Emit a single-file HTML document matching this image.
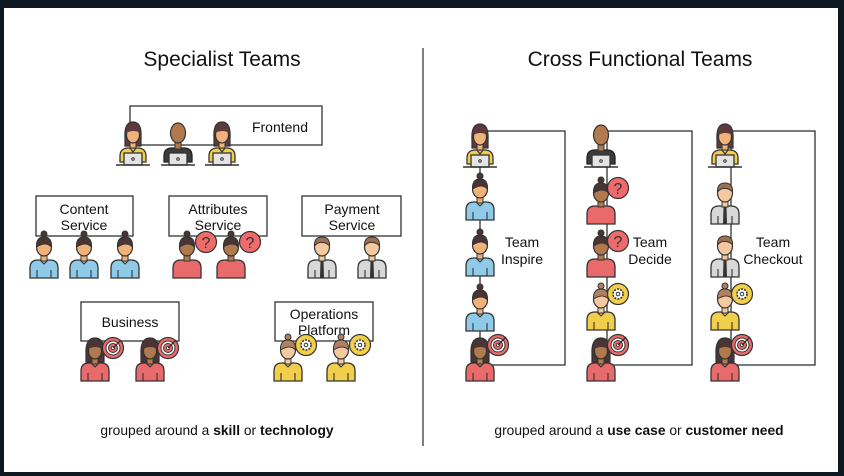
<!DOCTYPE html>
<html><head><meta charset="utf-8"><style>
html,body{margin:0;padding:0;background:#0d1720;}
svg{display:block;}
text{font-family:"Liberation Sans",sans-serif;fill:#111;}
</style></head><body>
<svg width="844" height="476" viewBox="0 0 844 476" xmlns="http://www.w3.org/2000/svg">
<defs>
<symbol id="fl" viewBox="0 0 34 50" width="34" height="50" overflow="visible">
<path d="M4 44 V38 Q4 31 11 30 L23 30 Q30 31 30 38 V44 Z" fill="#f2cf4a" stroke="#333" stroke-width="1.3"/>
<path d="M14 30 L17 34 L20 30" fill="none" stroke="#333" stroke-width="1.2"/>
<path d="M9 20 Q8 4 17 4 Q26 4 25 20 L25 28 L9 28 Z" fill="#5e3b3b" stroke="#333" stroke-width="1.2"/>
<rect x="14" y="23" width="6" height="7" fill="#f0b27a" stroke="#333" stroke-width="1"/>
<ellipse cx="17" cy="17" rx="6.5" ry="8" fill="#f0b27a" stroke="#333" stroke-width="1.2"/>
<path d="M10 15 Q12 8 17 8 Q22 8 24 15 Q18 11 10 15 Z" fill="#5e3b3b"/>
<rect x="8" y="35" width="18" height="12" fill="#e4e4e4" stroke="#333" stroke-width="1.3"/>
<circle cx="17" cy="41" r="1.3" fill="none" stroke="#333"/>
<line x1="0" y1="47" x2="34" y2="47" stroke="#333" stroke-width="1.5"/>
</symbol>
<symbol id="ml" viewBox="0 0 34 50" width="34" height="50" overflow="visible">
<path d="M3 44 V38 Q3 30 11 30 L23 30 Q31 30 31 38 V44 Z" fill="#3c3c3c" stroke="#222" stroke-width="1.3"/>
<rect x="14" y="23" width="6" height="8" fill="#b07a4e" stroke="#333" stroke-width="1"/>
<ellipse cx="17" cy="15" rx="7.5" ry="10" fill="#b07a4e" stroke="#333" stroke-width="1.2"/>
<rect x="8" y="35" width="18" height="12" fill="#e4e4e4" stroke="#333" stroke-width="1.3"/>
<circle cx="17" cy="41" r="1.3" fill="none" stroke="#333"/>
<line x1="0" y1="47" x2="34" y2="47" stroke="#333" stroke-width="1.5"/>
</symbol>
<symbol id="bb" viewBox="0 0 34 50" width="34" height="50" overflow="visible">
<path d="M3 48 V38 Q3 30 11 30 L23 30 Q31 30 31 38 V48 Z" fill="#8fcbe8" stroke="#333" stroke-width="1.3"/>
<path d="M13 30 L17 34 L21 30 M10 40 V48 M24 40 V48" fill="none" stroke="#333" stroke-width="1.1"/>
<rect x="14" y="23" width="6" height="8" fill="#f0b27a" stroke="#333" stroke-width="1"/>
<circle cx="17" cy="4" r="3" fill="#4a3434" stroke="#333"/>
<ellipse cx="17" cy="17" rx="7.5" ry="9" fill="#f0b27a" stroke="#333" stroke-width="1.2"/>
<path d="M9.5 17 Q9 7 17 7 Q25 7 24.5 17 Q19 11 9.5 17 Z" fill="#4a3434" stroke="#333"/>
</symbol>
<symbol id="by" viewBox="0 0 34 50" width="34" height="50" overflow="visible">
<path d="M3 48 V38 Q3 30 11 30 L23 30 Q31 30 31 38 V48 Z" fill="#f2cf4a" stroke="#333" stroke-width="1.3"/>
<path d="M13 30 L17 34 L21 30 M10 40 V48 M24 40 V48" fill="none" stroke="#333" stroke-width="1.1"/>
<rect x="14" y="23" width="6" height="8" fill="#f5c9a0" stroke="#333" stroke-width="1"/>
<circle cx="17" cy="4" r="3" fill="#b08060" stroke="#333"/>
<ellipse cx="17" cy="17" rx="7.5" ry="9" fill="#f5c9a0" stroke="#333" stroke-width="1.2"/>
<path d="M9.5 17 Q9 7 17 7 Q25 7 24.5 17 Q19 11 9.5 17 Z" fill="#b08060" stroke="#333"/>
</symbol>
<symbol id="br" viewBox="0 0 34 50" width="34" height="50" overflow="visible">
<path d="M3 48 V38 Q3 30 11 30 L23 30 Q31 30 31 38 V48 Z" fill="#e86a6a" stroke="#333" stroke-width="1.3"/>
<rect x="14" y="23" width="6" height="8" fill="#b07a4e" stroke="#333" stroke-width="1"/>
<circle cx="17" cy="4" r="3" fill="#4a3434" stroke="#333"/>
<ellipse cx="17" cy="17" rx="7.5" ry="9" fill="#b07a4e" stroke="#333" stroke-width="1.2"/>
<path d="M9.5 17 Q9 7 17 7 Q25 7 24.5 17 Q19 11 9.5 17 Z" fill="#4a3434" stroke="#333"/>
</symbol>
<symbol id="lr" viewBox="0 0 34 50" width="34" height="50" overflow="visible">
<path d="M3 48 V38 Q3 30 11 30 L23 30 Q31 30 31 38 V48 Z" fill="#e86a6a" stroke="#333" stroke-width="1.3"/>
<path d="M13 30 L17 34 L21 30 M10 40 V48 M24 40 V48" fill="none" stroke="#333" stroke-width="1.1"/>
<path d="M8 22 Q7 5 17 5 Q27 5 26 22 L26 29 L8 29 Z" fill="#4a3434" stroke="#333" stroke-width="1.2"/>
<rect x="14" y="23" width="6" height="8" fill="#b07a4e" stroke="#333" stroke-width="1"/>
<ellipse cx="17" cy="18" rx="6.5" ry="8" fill="#b07a4e" stroke="#333" stroke-width="1.2"/>
<path d="M10 16 Q12 9 17 9 Q22 9 24 16 Q18 12 10 16 Z" fill="#4a3434"/>
</symbol>
<symbol id="mg" viewBox="0 0 34 50" width="34" height="50" overflow="visible">
<path d="M3 48 V38 Q3 30 11 30 L23 30 Q31 30 31 38 V48 Z" fill="#d8d8d8" stroke="#333" stroke-width="1.3"/>
<path d="M15.5 31 L18.5 31 L19 48 L15 48 Z" fill="#333"/>
<path d="M10 40 V48 M24 40 V48" stroke="#333" stroke-width="1.1"/>
<rect x="14" y="23" width="6" height="8" fill="#f5c9a0" stroke="#333" stroke-width="1"/>
<ellipse cx="17" cy="17" rx="7.5" ry="9" fill="#f5c9a0" stroke="#333" stroke-width="1.2"/>
<path d="M9.5 16 Q9 7 17 7 Q25 7 24.5 16 Q20 11 13 13 Q11 14 9.5 16 Z" fill="#9c7050" stroke="#333"/>
</symbol>
<symbol id="q" viewBox="0 0 24 24" width="24" height="24" overflow="visible">
<circle cx="12" cy="12" r="10.5" fill="#ee6b6b" stroke="#333" stroke-width="1.2"/>
<text x="12" y="18" font-size="16" text-anchor="middle" style="fill:#333">?</text>
</symbol>
<symbol id="tg" viewBox="0 0 24 24" width="24" height="24" overflow="visible">
<circle cx="12" cy="12" r="10.5" fill="#ee6b6b" stroke="#333" stroke-width="1.2"/>
<circle cx="12" cy="12" r="7" fill="#fff" stroke="#333"/>
<circle cx="12" cy="12" r="4.5" fill="#ee6b6b" stroke="#333"/>
<circle cx="12" cy="12" r="1.6" fill="#fff" stroke="#333" stroke-width=".8"/>
<path d="M12 12 L20 4" stroke="#333" stroke-width="1.3"/>
</symbol>
<symbol id="gr" viewBox="0 0 24 24" width="24" height="24" overflow="visible">
<circle cx="12" cy="12" r="10.5" fill="#f2cf4a" stroke="#333" stroke-width="1.2"/>
<circle cx="12" cy="12" r="5" fill="#fff" stroke="#333" stroke-width="1.6" stroke-dasharray="2 1.2"/>
<circle cx="12" cy="12" r="1.8" fill="none" stroke="#333"/>
</symbol>
</defs>

<rect x="4" y="8" width="834" height="464" fill="#fff"/>

<text x="222" y="66" font-size="21" text-anchor="middle">Specialist Teams</text>
<text x="640" y="66" font-size="21" text-anchor="middle">Cross Functional Teams</text>
<line x1="423" y1="48" x2="423" y2="446" stroke="#555" stroke-width="1.5"/>

<g fill="#fff" stroke="#333" stroke-width="1.3">
<rect x="130" y="106" width="192" height="39"/>
<rect x="36" y="196" width="97" height="40"/>
<rect x="169" y="196" width="98" height="40"/>
<rect x="302" y="196" width="99" height="40"/>
<rect x="81" y="302" width="98" height="39"/>
<rect x="275" y="302" width="98" height="39"/>
<rect x="480" y="131" width="85" height="234"/>
<rect x="607" y="131" width="85" height="234"/>
<rect x="731" y="131" width="84" height="234"/>
</g>
<g font-size="14" text-anchor="middle">
<text x="280" y="132">Frontend</text>
<text x="84" y="214">Content</text><text x="84" y="230">Service</text>
<text x="218" y="214">Attributes</text><text x="218" y="230">Service</text>
<text x="352" y="214">Payment</text><text x="352" y="230">Service</text>
<text x="130" y="327">Business</text>
<text x="324" y="319">Operations</text><text x="324" y="335">Platform</text>
<text x="522" y="247">Team</text><text x="522" y="264">Inspire</text>
<text x="650" y="247">Team</text><text x="650" y="264">Decide</text>
<text x="773" y="247">Team</text><text x="773" y="264">Checkout</text>
</g>

<use href="#fl" x="116" y="118"/><use href="#ml" x="161" y="118"/><use href="#fl" x="205" y="118"/>
<use href="#bb" x="27" y="230"/><use href="#bb" x="67" y="230"/><use href="#bb" x="108" y="230"/>
<use href="#br" x="170" y="230"/><use href="#q" x="194" y="230"/>
<use href="#br" x="214" y="230"/><use href="#q" x="238" y="230"/>
<use href="#mg" x="305" y="230"/><use href="#mg" x="355" y="230"/>
<use href="#lr" x="78" y="333"/><use href="#tg" x="101" y="336"/>
<use href="#lr" x="133" y="333"/><use href="#tg" x="156" y="336"/>
<use href="#by" x="271" y="333"/><use href="#gr" x="294" y="333"/>
<use href="#by" x="324" y="333"/><use href="#gr" x="348" y="333"/>

<use href="#fl" x="463" y="120"/>
<use href="#bb" x="463" y="172"/>
<use href="#bb" x="463" y="228"/>
<use href="#bb" x="463" y="283"/>
<use href="#lr" x="463" y="333"/><use href="#tg" x="486" y="333"/>

<use href="#ml" x="584" y="120"/>
<use href="#br" x="584" y="176"/><use href="#q" x="606" y="176"/>
<use href="#br" x="584" y="229"/><use href="#q" x="606" y="229"/>
<use href="#by" x="584" y="282"/><use href="#gr" x="606" y="282"/>
<use href="#lr" x="584" y="333"/><use href="#tg" x="606" y="333"/>

<use href="#fl" x="708" y="120"/>
<use href="#mg" x="708" y="176"/>
<use href="#mg" x="708" y="229"/>
<use href="#by" x="708" y="282"/><use href="#gr" x="730" y="282"/>
<use href="#lr" x="708" y="333"/><use href="#tg" x="730" y="333"/>

<text x="217" y="435" font-size="13.8" text-anchor="middle">grouped around a <tspan font-weight="bold">skill</tspan> or <tspan font-weight="bold">technology</tspan></text>
<text x="639" y="435" font-size="13.8" text-anchor="middle">grouped around a <tspan font-weight="bold">use case</tspan> or <tspan font-weight="bold">customer need</tspan></text>
</svg>
</body></html>
